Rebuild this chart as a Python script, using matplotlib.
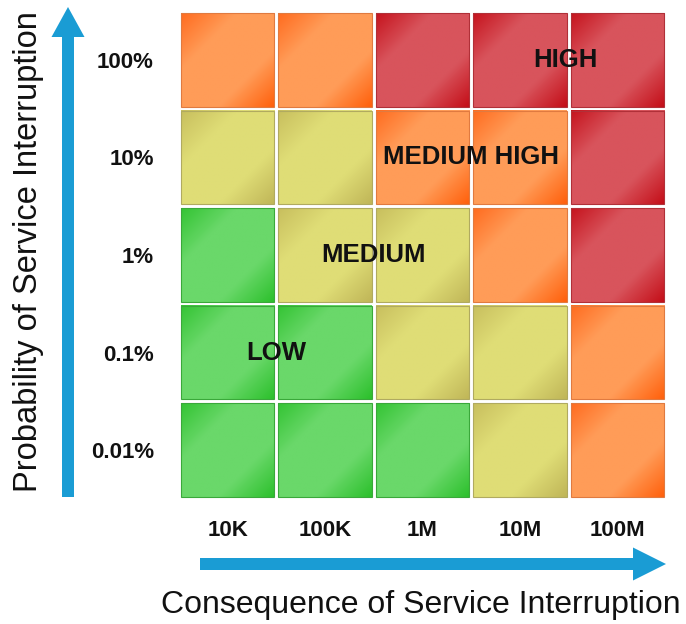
import numpy as np
import matplotlib
matplotlib.use('Agg')
import matplotlib.pyplot as plt
from matplotlib.colors import LinearSegmentedColormap
from matplotlib.patches import Rectangle, FancyArrow

plt.rcParams['font.family'] = ['Liberation Sans', 'DejaVu Sans']

# axes categories
consequence = ['10K', '100K', '1M', '10M', '100M']
probability = ['0.01%', '0.1%', '1%', '10%', '100%']   # bottom -> top

# risk level per cell: rows = probability (bottom -> top), cols = consequence
# 0 low, 1 medium, 2 medium high, 3 high
risk = [
    [0, 0, 0, 1, 2],
    [0, 0, 1, 1, 2],
    [0, 1, 1, 2, 3],
    [1, 1, 2, 2, 3],
    [2, 2, 3, 3, 3],
]

zone_names = ['LOW', 'MEDIUM', 'MEDIUM HIGH', 'HIGH']
zone_x = [1.0, 2.0, 3.0, 3.97]
zone_y = [1.5, 2.5, 3.5, 4.5]

# (dark corner top-left, light middle, dark corner bottom-right, edge)
palette = [
    ('#34c434', '#6ad86a', '#2cc02c', '#3aa83a'),
    ('#c8bf5e', '#dfdd76', '#c0b658', '#b0aa60'),
    ('#ff6c20', '#ff9c58', '#ff600c', '#e07a40'),
    ('#c6141e', '#d8545c', '#c40e18', '#b03038'),
]
arrow_blue = '#1a9cd4'

fig = plt.figure(figsize=(6.86, 6.24), dpi=100)

# full-figure layer in pixel units for the arrows
bg = fig.add_axes([0, 0, 1, 1], zorder=0)
bg.set_xlim(0, 686)
bg.set_ylim(624, 0)
bg.axis('off')
bg.add_patch(FancyArrow(68, 497, 0, -490, width=12, head_width=33, head_length=30,
                        length_includes_head=True, color=arrow_blue, lw=0))
bg.add_patch(FancyArrow(200, 564, 466, 0, width=12, head_width=33, head_length=33,
                        length_includes_head=True, color=arrow_blue, lw=0))

ax = fig.add_axes([179 / 686, 125 / 624, 487 / 686, 488 / 624], zorder=1)
ax.set_facecolor('none')

# diagonal shading inside each tile
n = 64
u, v = np.meshgrid(np.linspace(0, 1, n), np.linspace(0, 1, n))
diag = (u + v) / 2.0
cmaps = [LinearSegmentedColormap.from_list(f'c{i}', [(0, p[0]), (0.3, p[1]), (0.7, p[1]), (1, p[2])])
         for i, p in enumerate(palette)]

pad = 0.02
for r, row in enumerate(risk):
    for c, level in enumerate(row):
        x0, x1 = c + pad, c + 1 - pad
        y0, y1 = r + pad, r + 1 - pad
        # origin='upper' so the dark corner sits top-left
        ax.imshow(diag, cmap=cmaps[level], extent=(x0, x1, y0, y1), origin='upper',
                  vmin=0, vmax=1, interpolation='bilinear', zorder=1)
        ax.add_patch(Rectangle((x0, y0), x1 - x0, y1 - y0, fill=False,
                               edgecolor=palette[level][3], lw=0.8, zorder=2))

for name, zx, zy in zip(zone_names, zone_x, zone_y):
    ax.text(zx, zy, name, ha='center', va='center', fontsize=18.5,
            fontweight='bold', color='#111111', zorder=3)

ax.set_xlim(0, 5)
ax.set_ylim(0, 5)
ax.set_aspect('auto')
ax.set_xticks(np.arange(5) + 0.5, consequence)
ax.set_yticks(np.arange(5) + 0.5, probability)
ax.tick_params(length=0, labelsize=16)
ax.tick_params(axis='x', pad=15)
ax.tick_params(axis='y', pad=18)
for lab in ax.get_xticklabels() + ax.get_yticklabels():
    lab.set_fontweight('bold')
    lab.set_color('#111111')
for s in ax.spines.values():
    s.set_visible(False)

fig.text(29 / 686, 1 - 252 / 624, 'Probability of Service Interruption', rotation=90,
         ha='center', va='center', fontsize=23.5, color='#111111')
fig.text(421 / 686, 1 - 605 / 624, 'Consequence of Service Interruption',
         ha='center', va='center', fontsize=23, color='#111111')

fig.savefig('out.png', dpi=100, facecolor='white')
